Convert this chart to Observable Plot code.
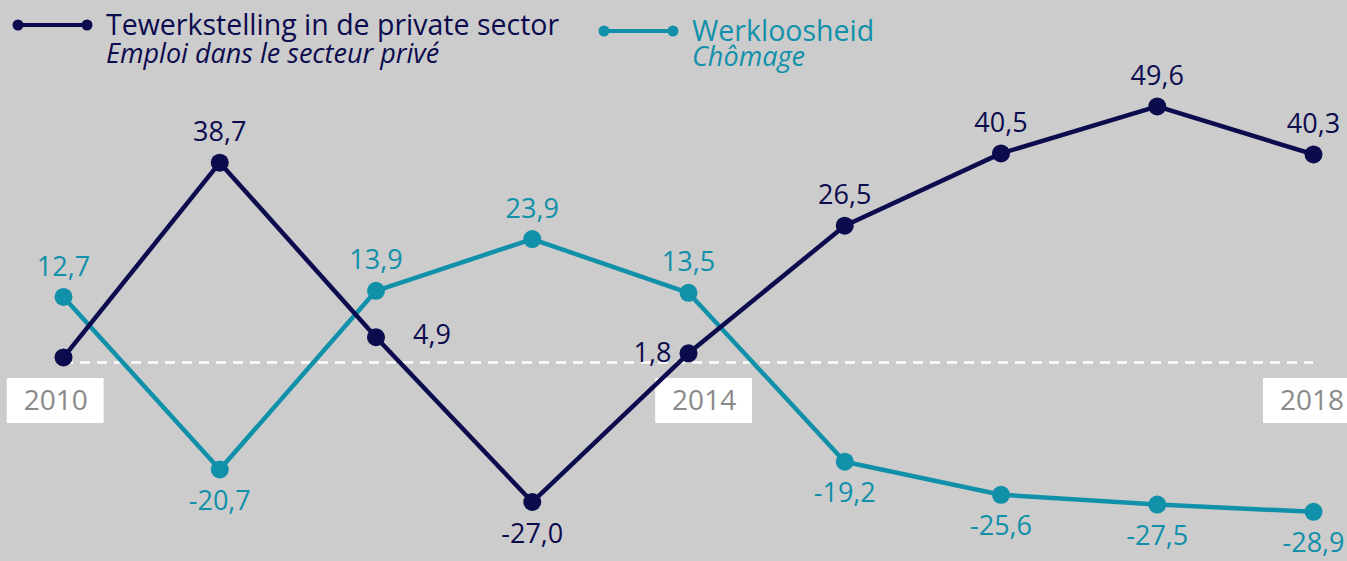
<!DOCTYPE html>
<html>
<head>
<meta charset="utf-8">
<script src="https://cdn.jsdelivr.net/npm/d3@7"></script>
<script src="https://cdn.jsdelivr.net/npm/@observablehq/plot@0.6"></script>
<style>
  html, body { margin: 0; padding: 0; background: #cccccc; }
  #wrap { position: relative; width: 1347px; height: 561px; overflow: hidden; font-family: "Open Sans", sans-serif; }
  #legend { position: absolute; left: 0; top: 0; }
</style>
</head>
<body>
<div id="wrap">
  <div id="chart"></div>
  <svg id="legend" width="1347" height="80"></svg>
</div>
<script>
const years = [2010, 2011, 2012, 2013, 2014, 2015, 2016, 2017, 2018];
const privateEmployment = [1.0, 38.7, 4.9, -27.0, 1.8, 26.5, 40.5, 49.6, 40.3];
const privateLabelShown = [false, true, true, true, true, true, true, true, true];
const privateLabelSide = ["none", "above", "right", "below", "left", "above", "above", "above", "above"];
const unemployment = [12.7, -20.7, 13.9, 23.9, 13.5, -19.2, -25.6, -27.5, -28.9];
const unemploymentLabelSide = ["above", "below", "above", "above", "above", "below", "below", "below", "below"];
const yearLabels = [2010, 2014, 2018];
const yearLabelShift = [-0.05, 0.1, -0.01];
const seriesNames = [
  ["Tewerkstelling in de private sector", "Emploi dans le secteur privé"],
  ["Werkloosheid", "Chômage"]
];
const colors = ["#0b0b4e", "#1190aa"];

const fmt = v => v.toFixed(1).replace(".", ",");

const rows = [];
years.forEach((yr, i) => {
  rows.push({series: 0, year: yr, value: privateEmployment[i], side: privateLabelSide[i], show: privateLabelShown[i]});
});
years.forEach((yr, i) => {
  rows.push({series: 1, year: yr, value: unemployment[i], side: unemploymentLabelSide[i], show: true});
});
const labelled = rows.filter(d => d.show);
const sideData = s => labelled.filter(d => d.side === s);
const yearRows = yearLabels.map((y, i) => ({year: y, pos: y + yearLabelShift[i]}));

const chart = Plot.plot({
  width: 1347,
  height: 561,
  marginTop: 78,
  marginBottom: 44,
  marginLeft: 63,
  marginRight: 34,
  style: {background: "#cccccc", fontFamily: "Open Sans, sans-serif", overflow: "visible"},
  x: {domain: [2010, 2018], axis: null},
  y: {domain: [-30, 55], axis: null},
  marks: [
    Plot.ruleY([0], {x1: 2010, x2: 2018, stroke: "white", strokeWidth: 2.5, strokeDasharray: "10,7"}),
    Plot.rect(yearRows, {x1: d => d.pos - 0.31, x2: d => d.pos + 0.31, y1: -3.1, y2: -11.8, fill: "white"}),
    Plot.text(yearRows, {x: "pos", y: -7.45, text: d => String(d.year), fill: "#8a8a8a", fontSize: 28}),
    Plot.line(rows.filter(d => d.series === 1), {x: "year", y: "value", stroke: colors[1], strokeWidth: 4.5}),
    Plot.dot(rows.filter(d => d.series === 1), {x: "year", y: "value", fill: colors[1], r: 9}),
    Plot.line(rows.filter(d => d.series === 0), {x: "year", y: "value", stroke: colors[0], strokeWidth: 4.5}),
    Plot.dot(rows.filter(d => d.series === 0), {x: "year", y: "value", fill: colors[0], r: 9}),
    Plot.text(sideData("above"), {x: "year", y: "value", text: d => fmt(d.value), fill: d => colors[d.series], dy: -30, fontSize: 27}),
    Plot.text(sideData("below"), {x: "year", y: "value", text: d => fmt(d.value), fill: d => colors[d.series], dy: 32, fontSize: 27}),
    Plot.text(sideData("right"), {x: "year", y: "value", text: d => fmt(d.value), fill: d => colors[d.series], dx: 56, dy: -2, fontSize: 27}),
    Plot.text(sideData("left"), {x: "year", y: "value", text: d => fmt(d.value), fill: d => colors[d.series], dx: -36, fontSize: 27})
  ]
});
document.getElementById("chart").appendChild(chart);

// Legend (drawn with d3 into an overlay SVG above the chart)
const lg = d3.select("#legend").style("font-family", "Open Sans, sans-serif");
const legendLayout = [
  {x0: 13, x1: 92, y: 25, tx: 106, b1: 35, b2: 63},
  {x0: 599, x1: 678, y: 31, tx: 692, b1: 41, b2: 66}
];
seriesNames.forEach((names, i) => {
  const L = legendLayout[i];
  const g = lg.append("g").attr("fill", colors[i]);
  g.append("line").attr("x1", L.x0 + 5).attr("x2", L.x1 - 5).attr("y1", L.y).attr("y2", L.y)
    .attr("stroke", colors[i]).attr("stroke-width", 4);
  g.append("circle").attr("cx", L.x0 + 5).attr("cy", L.y).attr("r", 5.5);
  g.append("circle").attr("cx", L.x1 - 5).attr("cy", L.y).attr("r", 5.5);
  g.append("text").attr("x", L.tx).attr("y", L.b1).attr("font-size", 28.5).text(names[0]);
  g.append("text").attr("x", L.tx).attr("y", L.b2).attr("font-size", 27).attr("font-style", "italic").text(names[1]);
});
</script>
</body>
</html>
